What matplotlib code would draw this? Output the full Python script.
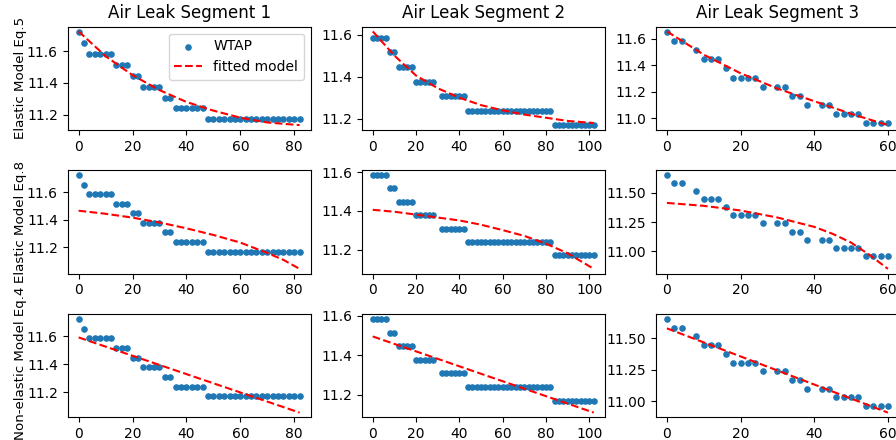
import numpy as np
import matplotlib
matplotlib.use("Agg")
import matplotlib.pyplot as plt
from matplotlib.ticker import MultipleLocator

# pressure levels seen in the WTAP readings
L = [11.722, 11.653, 11.584, 11.515, 11.446, 11.377, 11.308, 11.239, 11.170, 11.101, 11.032, 10.963]

# segment 1 readings
seg1_t = list(range(0, 84, 2))
seg1_p = [L[0], L[1]] + [L[2]] * 5 + [L[3]] * 3 + [L[4]] * 2 + [L[5]] * 4 + [L[6]] * 2 + [L[7]] * 6 + [L[8]] * 18

# segment 2 readings (no sample at t=30)
seg2_t = list(range(0, 30, 2)) + list(range(32, 104, 2))
seg2_p = [L[2]] * 4 + [L[3]] * 2 + [L[4]] * 4 + [L[5]] * 5 + [L[6]] * 6 + [L[7]] * 20 + [L[8]] * 10

# segment 3 readings
seg3_t = [0, 2, 4, 8, 10, 12, 14, 16, 18, 20, 22, 24, 26, 30, 32, 34, 36, 38, 42, 44, 46, 48, 50, 52, 54, 56, 58, 60]
seg3_p = [L[1], L[2], L[2], L[3], L[4], L[4], L[4], L[5], L[6], L[6], L[6], L[6], L[7], L[7], L[7],
          L[8], L[8], L[9], L[9], L[9], L[10], L[10], L[10], L[10], L[11], L[11], L[11], L[11]]

eq5_seg1_t = [0, 10, 20, 30, 40, 50, 60, 70, 82]
eq5_seg1_p = [11.727, 11.57, 11.45, 11.355, 11.28, 11.225, 11.18, 11.15, 11.133]
eq5_seg2_t = [0, 10, 20, 30, 40, 50, 60, 70, 80, 90, 102]
eq5_seg2_p = [11.615, 11.50, 11.405, 11.345, 11.30, 11.265, 11.24, 11.22, 11.205, 11.19, 11.18]
eq5_seg3_t = [0, 10, 20, 30, 40, 50, 60]
eq5_seg3_p = [11.655, 11.48, 11.34, 11.225, 11.13, 11.035, 10.95]

eq8_seg1_t = [0, 10, 20, 30, 40, 50, 60, 70, 76, 82]
eq8_seg1_p = [11.465, 11.443, 11.415, 11.38, 11.338, 11.29, 11.235, 11.16, 11.11, 11.045]
eq8_seg2_t = [0, 10, 20, 30, 40, 50, 60, 70, 80, 90, 96, 102]
eq8_seg2_p = [11.405, 11.395, 11.38, 11.365, 11.35, 11.328, 11.30, 11.27, 11.23, 11.18, 11.14, 11.10]
eq8_seg3_t = [0, 10, 20, 30, 40, 45, 50, 55, 60]
eq8_seg3_p = [11.415, 11.39, 11.35, 11.29, 11.21, 11.15, 11.075, 10.97, 10.85]

eq4_seg1_t = [0, 82]
eq4_seg1_p = [11.59, 11.055]
eq4_seg2_t = [0, 102]
eq4_seg2_p = [11.495, 11.11]
eq4_seg3_t = [0, 60]
eq4_seg3_p = [11.578, 10.912]

col_titles = ["Air Leak Segment 1", "Air Leak Segment 2", "Air Leak Segment 3"]
row_labels = ["Elastic Model Eq.5", "Elastic Model Eq.8", "Non-elastic Model Eq.4"]

data = [(seg1_t, seg1_p), (seg2_t, seg2_p), (seg3_t, seg3_p)]
fits = [
    [(eq5_seg1_t, eq5_seg1_p), (eq5_seg2_t, eq5_seg2_p), (eq5_seg3_t, eq5_seg3_p)],
    [(eq8_seg1_t, eq8_seg1_p), (eq8_seg2_t, eq8_seg2_p), (eq8_seg3_t, eq8_seg3_p)],
    [(eq4_seg1_t, eq4_seg1_p), (eq4_seg2_t, eq4_seg2_p), (eq4_seg3_t, eq4_seg3_p)],
]
# y tick spacing per panel (row, col)
y_steps = [[0.2, 0.2, 0.2],
           [0.2, 0.2, 0.25],
           [0.2, 0.2, 0.25]]

fig, axes = plt.subplots(3, 3, figsize=(8.96, 4.4), dpi=100)
# right edge runs slightly past the canvas like the original
fig.subplots_adjust(left=0.0754, right=1.0033, bottom=0.0516, top=0.9393, wspace=0.21, hspace=0.394)

for r in range(3):
    for c in range(3):
        ax = axes[r, c]
        t, p = data[c]
        ax.scatter(t, p, s=14, color='tab:blue', label='WTAP', zorder=2)
        ft, fp = fits[r][c]
        ax.plot(ft, fp, 'r--', label='fitted model', zorder=3)
        ax.xaxis.set_major_locator(MultipleLocator(20))
        ax.yaxis.set_major_locator(MultipleLocator(y_steps[r][c]))
        if r == 0:
            ax.set_title(col_titles[c])
        if c == 0:
            ax.set_ylabel(row_labels[r], fontsize=9.6)
            # keep the long bottom label inside the canvas
            ax.yaxis.set_label_coords(-0.167, 0.52 if r == 2 else 0.5)

axes[0, 0].legend(loc='upper right')

plt.savefig("out.png", dpi=100)
